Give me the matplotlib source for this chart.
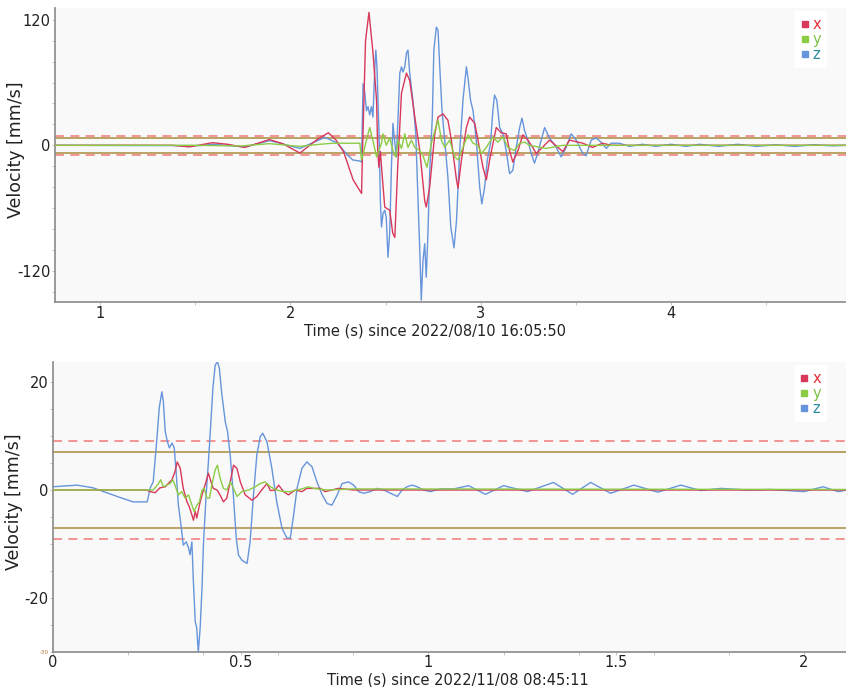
import matplotlib
matplotlib.use("Agg")
import matplotlib.pyplot as plt
from matplotlib.lines import Line2D
from matplotlib.ticker import MultipleLocator

RED = "#d8385a"
GREEN = "#8ccc45"
BLUE = "#6795db"
DASH = "#f28c8c"
OLIVE = "#b49b58"
INK = "#222222"
FACE = "#f9f9f9"

# ---- event 1: 2022/08/10 16:05:50 ----
t1_x = [0.76, 1.26, 1.38, 1.47, 1.59, 1.67, 1.76, 1.89, 1.96, 2.05, 2.14, 2.20, 2.24, 2.28, 2.33,
        2.374, 2.380, 2.395, 2.413, 2.433, 2.453, 2.459, 2.465, 2.473, 2.483, 2.496, 2.504, 2.522,
        2.538, 2.549, 2.564, 2.584, 2.610, 2.627, 2.654, 2.680, 2.706, 2.714, 2.732, 2.759, 2.776,
        2.802, 2.828, 2.846, 2.873, 2.881, 2.899, 2.925, 2.942, 2.969, 2.986, 3.012, 3.030, 3.047,
        3.082, 3.108, 3.134, 3.152, 3.169, 3.196, 3.222, 3.248, 3.274, 3.292, 3.362, 3.432, 3.467,
        3.537, 3.588, 3.640, 3.688, 3.78, 4.92]
v1_x = [0, 0, 0, -1.5, 2.5, 1, -2, 5.5, 1.6, -7.4, 5.5, 12, 5, -6.4, -33,
        -46, 0, 100, 127, 91, 43, -5, -21, -6, -30, -59, -60, -62,
        -84, -88, -21, 50, 69, 62, 27, -5, -53, -59, -40, 11, 27,
        30, 24, 5, -33, -41, -14, 17, 27, 21, 5, -21, -33, -14,
        17, 12, 11, -5, -16, -5, 10, 5, -2, -8, 5, -6, 5,
        2, -2, 2, 0, 0, 0]

t1_y = [0.76, 1.5, 1.74, 1.89, 2.05, 2.155, 2.223, 2.365, 2.374, 2.400, 2.417, 2.433, 2.453, 2.479,
        2.487, 2.504, 2.522, 2.539, 2.554, 2.566, 2.584, 2.601, 2.618, 2.636, 2.654, 2.680, 2.697,
        2.718, 2.741, 2.767, 2.776, 2.794, 2.811, 2.837, 2.864, 2.881, 2.907, 2.933, 2.960, 2.986,
        3.003, 3.030, 3.064, 3.090, 3.117, 3.143, 3.178, 3.205, 3.231, 3.257, 3.345, 3.432, 4.92]
v1_y = [0, 0, -0.6, 1.6, -1, 1, 2, 2, -14, 5, 17, 5, -11, 2,
        11, 0, 7, -5, -11, 5, -3, 11, -2, 5, -2, -5, -10,
        -21, 2, 19, 24, 5, -2, 5, -11, -14, -2, 10, 2, 0,
        -8, -2, 8, 3, 8, -2, -5, 2, 3, 0, -3, 0, 0]

t1_z = [0.76, 1.525, 1.593, 1.761, 1.892, 2.050, 2.181, 2.244, 2.297, 2.328, 2.365, 2.374,
        2.382, 2.391, 2.400, 2.408, 2.417, 2.426, 2.434, 2.444, 2.449, 2.455, 2.466, 2.473, 2.479,
        2.487, 2.496, 2.504, 2.513, 2.522, 2.531, 2.539, 2.549, 2.557, 2.566, 2.575, 2.584, 2.592,
        2.601, 2.610, 2.618, 2.627, 2.644, 2.659, 2.671, 2.680, 2.688, 2.697, 2.706, 2.714, 2.723,
        2.732, 2.746, 2.754, 2.767, 2.776, 2.785, 2.797, 2.811, 2.828, 2.843, 2.860, 2.873, 2.890,
        2.907, 2.925, 2.933, 2.947, 2.960, 2.977, 2.995, 3.006, 3.021, 3.035, 3.052, 3.064, 3.073,
        3.085, 3.100, 3.117, 3.134, 3.152, 3.169, 3.187, 3.205, 3.217, 3.231, 3.248, 3.266, 3.283,
        3.299, 3.336, 3.362, 3.397, 3.423, 3.449, 3.476, 3.502, 3.537, 3.554, 3.581, 3.607, 3.633,
        3.660, 3.686, 3.730, 3.782, 3.85, 3.92, 4.00, 4.08, 4.15, 4.25, 4.35, 4.45, 4.55, 4.65,
        4.75, 4.85, 4.92]
v1_z = [0, -0.3, 1, -1.6, 4.5, -3, 7.6, 2.5, -8.6, -14, -15, -16,
        59, 50, 33, 37, 29, 37, 27, 75, 91, 75, 11, -53, -78,
        -65, -62, -69, -107, -84, -21, 21, 2, -11, 27, 69, 75, 70,
        75, 88, 91, 69, 43, 11, -53, -100, -148, -110, -94, -126, -84,
        -27, 27, 91, 113, 110, 75, 33, 5, -31, -78, -98, -72, -5,
        43, 75, 65, 43, 33, 5, -40, -56, -40, -14, 2, 33, 48,
        43, 17, 11, -5, -27, -24, -2, 17, 26, 14, 5, -8, -17,
        -8, 17, 7, -2, -11, -2, 11, 5, -8, -10, 5, 7, 3,
        -3, 2, 2, -1, 1, -1, 1, -1, 1, -1, 1, -1, 0.5, -1,
        0.5, -0.5, 0]

# ---- event 2: 2022/11/08 08:45:11 ----
t2_x = [0, 0.25, 0.259, 0.272, 0.285, 0.299, 0.307, 0.317, 0.325, 0.331, 0.339, 0.347, 0.357,
        0.363, 0.370, 0.374, 0.379, 0.383, 0.390, 0.397, 0.405, 0.414, 0.421, 0.427, 0.437, 0.445,
        0.454, 0.463, 0.472, 0.481, 0.490, 0.499, 0.512, 0.530, 0.543, 0.556, 0.570, 0.579, 0.592,
        0.601, 0.614, 0.627, 0.645, 0.663, 0.676, 0.712, 0.725, 0.76, 0.80, 2.115]
v2_x = [0, 0, -0.3, -0.5, 0.4, 0.6, 1.2, 1.9, 3.4, 5.2, 4, 0.3, -2.2,
        -3.1, -4.6, -5.6, -4, -5.2, -2.8, -0.9, 0.9, 3.1, 1.5, 0.3, 0, -0.9,
        -2.2, -1.5, 1.5, 4.6, 4, 1.5, -0.9, -1.9, -1.2, 0, 1.2, -0.1, 0,
        0.9, -0.3, -0.9, 0, -0.3, 0.3, 0.3, -0.3, 0.3, 0, 0]

t2_y = [0, 0.25, 0.267, 0.281, 0.287, 0.294, 0.303, 0.312, 0.319, 0.325, 0.334, 0.343, 0.352,
        0.361, 0.370, 0.376, 0.383, 0.390, 0.397, 0.403, 0.410, 0.417, 0.423, 0.432, 0.438, 0.445,
        0.454, 0.463, 0.472, 0.481, 0.490, 0.503, 0.521, 0.539, 0.552, 0.565, 0.579, 0.596, 0.614,
        0.632, 0.650, 0.667, 0.681, 0.694, 0.73, 0.80, 2.115]
v2_y = [0, 0, 0, 1.2, 1.9, 0.6, 0.9, 1.2, 1.9, 0.9, -0.9, -0.3, -1.5,
        -0.9, -2.8, -4, -2.8, -2.2, 0, 0.3, -1.5, -1.5, 0.9, 3.7, 4.6, 2.2,
        0.3, 0, 1.5, 0.3, -1.2, -0.3, 0, 0.6, 1.2, 1.5, 0.6, 0, -0.3,
        -0.3, 0, 0.3, 0.6, 0.3, 0, 0.2, 0.1]

t2_z = [0, 0.064, 0.107, 0.171, 0.213, 0.251, 0.259, 0.267, 0.277, 0.283, 0.290, 0.294, 0.299,
        0.305, 0.310, 0.317, 0.323, 0.328, 0.334, 0.341, 0.347, 0.355, 0.361, 0.365, 0.370, 0.374,
        0.379, 0.383, 0.387, 0.392, 0.397, 0.401, 0.408, 0.414, 0.419, 0.426, 0.432, 0.438, 0.443,
        0.450, 0.459, 0.465, 0.472, 0.481, 0.488, 0.494, 0.503, 0.517, 0.525, 0.534, 0.543, 0.552,
        0.559, 0.570, 0.583, 0.596, 0.610, 0.623, 0.632, 0.641, 0.650, 0.663, 0.676, 0.690, 0.703,
        0.717, 0.730, 0.743, 0.757, 0.770, 0.787, 0.801, 0.814, 0.827, 0.845, 0.863, 0.881, 0.899,
        0.917, 0.930, 0.943, 0.957, 0.970, 0.987, 1.005, 1.032, 1.067, 1.107, 1.152, 1.200, 1.264,
        1.333, 1.384, 1.432, 1.485, 1.547, 1.611, 1.672, 1.725, 1.779, 1.851, 1.912, 2.000, 2.051,
        2.091, 2.115]
v2_z = [0.6, 0.9, 0.4, -1.2, -2.2, -2.2, 0.4, 1.5, 9.6, 15.2, 18.2, 16.4, 10.8,
        8.9, 7.8, 8.7, 7.8, 3.4, -2.8, -6.5, -10.2, -9.6, -10.7, -12, -9.6, -17,
        -24.4, -25.6, -30, -25.6, -18, -9.6, -0.9, 5.2, 10.8, 18.9, 23.1, 23.8, 22.6,
        17.6, 12.6, 10.8, 6.5, -1.5, -8.9, -12, -13, -13.6, -9.6, -0.9, 6.5, 9.9,
        10.5, 8.9, 4, -2.2, -7.1, -8.9, -8.9, -4.6, 0.3, 4, 5.2, 4.3, 1.5,
        -0.9, -2.5, -2.8, -0.9, 1.2, 1.5, 0.9, -0.3, -0.6, -0.3, 0.3, 0, -0.6,
        -1.2, 0, 0.6, 0.9, 0.6, 0, -0.3, 0.2, 0.2, 0.8, -0.8, 0.8, -0.3,
        1.4, -0.8, 1.4, -0.6, 0.9, -0.4, 0.9, -0.1, 0.3, 0, 0.1, -0.3, 0.6,
        -0.3, 0]

ALARM = 7.0    # solid threshold (mm/s)
WARN = 9.0     # dashed threshold (mm/s)

plt.rcParams.update({
    "font.family": "DejaVu Sans",
    "font.size": 11,
})

fig = plt.figure(figsize=(8.46, 6.87), dpi=100)
ax1 = fig.add_axes([0.065, 0.560, 0.935, 0.428])
ax2 = fig.add_axes([0.0626, 0.051, 0.9374, 0.422])


def style(ax, xlim, ylim, yticks, ylabels, xticks, xlabels, xminor, yminor, xlabel, lab_x, lab_y):
    ax.set_facecolor(FACE)
    for side in ("top", "right"):
        ax.spines[side].set_visible(False)
    for side in ("left", "bottom"):
        ax.spines[side].set_color("#8a8a8a")
        ax.spines[side].set_linewidth(1.2)
    ax.set_xlim(*xlim)
    ax.set_ylim(*ylim)
    ax.set_yticks(yticks, ylabels)
    ax.set_xticks(xticks, xlabels)
    ax.xaxis.set_minor_locator(MultipleLocator(xminor))
    ax.yaxis.set_minor_locator(MultipleLocator(yminor))
    ax.tick_params(which="both", length=2, width=0.6, color="#bbbbbb", labelcolor=INK, pad=1,
                   labelsize=10.5)
    ax.tick_params(axis="x", pad=0.5)
    ax.set_xlabel(xlabel, fontsize=10.5, color=INK)
    ax.xaxis.set_label_coords(lab_x, lab_y)
    ax.xaxis.label.set_va("top")
    ax.set_ylabel("Velocity [mm/s]", fontsize=12.5, color=INK)
    ax.yaxis.set_label_coords(-0.038, 0.52)
    for level, ls, col in ((WARN, (0, (5, 3.5)), DASH), (ALARM, "-", OLIVE)):
        ax.axhline(level, color=col, lw=1.3, ls=ls, zorder=1)
        ax.axhline(-level, color=col, lw=1.3, ls=ls, zorder=1)


def traces(ax, tx, vx, ty, vy, tz, vz):
    ax.plot(tz, vz, color=BLUE, lw=1.0, zorder=3)
    ax.plot(tx, vx, color=RED, lw=1.0, zorder=4)
    ax.plot(ty, vy, color=GREEN, lw=1.0, zorder=5)
    handles = [Line2D([], [], ls="none", marker="s", ms=4, color=c) for c in (RED, GREEN, BLUE)]
    leg = ax.legend(handles, ["x", "y", "z"], loc="upper left", bbox_to_anchor=(0.932, 1.0),
                    frameon=True, facecolor="white", edgecolor="none", framealpha=1,
                    handlelength=0.5, handletextpad=0.3, labelspacing=0.0, borderpad=0.4,
                    fontsize=10.5, labelcolor=["#e8303a", "#7cc242", "#2a8c9c"],
                    borderaxespad=0.2)
    leg.get_frame().set_boxstyle("square", pad=0.0)
    leg.set_zorder(6)


style(ax1, (0.763, 4.92), (-150, 131), [-120, 0, 120], ["-120", "0", "120"],
      [1, 2, 3, 4], ["1", "2", "3", "4"], 0.5, 20,
      "Time (s) since 2022/08/10 16:05:50", 0.48, -0.072)
traces(ax1, t1_x, v1_x, t1_y, v1_y, t1_z, v1_z)

style(ax2, (0, 2.112), (-30, 23.7), [-30, -20, 0, 20], ["-30", "-20", "0", "20"],
      [0, 0.5, 1, 1.5, 2], ["0", "0.5", "1", "1.5", "2"], 0.2, 5,
      "Time (s) since 2022/11/08 08:45:11", 0.51, -0.07)
traces(ax2, t2_x, v2_x, t2_y, v2_y, t2_z, v2_z)
small = ax2.get_yticklabels()[0]
small.set_fontsize(4)
small.set_color("#b07030")

fig.savefig("out.png", dpi=100, facecolor="white")
